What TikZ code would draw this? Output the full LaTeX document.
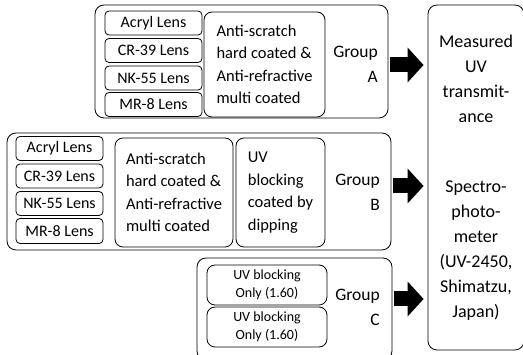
\documentclass[tikz,border=0pt]{standalone}
\usepackage{fontspec}
\setmainfont{Carlito}
\usetikzlibrary{arrows.meta}

\begin{document}
\begin{tikzpicture}[x=1pt,y=-1pt]
\def\lens#1{#1 Lens}
\tikzstyle{grp}=[draw,rounded corners=9pt,inner sep=0pt,line width=0.8pt];
\tikzstyle{lns}=[draw,rounded corners=4pt,inner sep=0pt,line width=0.8pt,font=\fontsize{16}{19}\selectfont];
\tikzstyle{coat}=[draw,rounded corners=8pt,inner sep=0pt,line width=0.8pt,align=left,font=\fontsize{16.5}{22.5}\selectfont];
\tikzstyle{only}=[draw,rounded corners=8pt,inner sep=0pt,line width=0.8pt,align=center,font=\fontsize{14}{18}\selectfont];
\tikzstyle{lbl}=[anchor=east,inner sep=0pt,align=right,font=\fontsize{17.5}{25}\selectfont];
\tikzstyle{big}=[-{Triangle[length=16pt,width=34pt]},line width=15pt,shorten <=2pt,shorten >=4pt];

\useasboundingbox (0,0) rectangle (523,355);

%% measuring box
\node [grp,align=center,minimum width=96,minimum height=345,font=\fontsize{18}{25}\selectfont] (meas) at (476,177.5)
  {Measured\\UV\\transmit-\\ance\\[45pt]Spectro-\\photo-\\meter\\(UV-2450,\\Shimatzu,\\Japan)};

%% group A
\node [grp,minimum width=293,minimum height=113] (ga) at (241.5,61.5) {};
\node [lns,minimum width=97,minimum height=24] (a1) at (153.5,23) {\lens{Acryl}};
\node [lns,minimum width=97,minimum height=24] (a2) at (153.5,50.5) {\lens{CR-39}};
\node [lns,minimum width=97,minimum height=24] (a3) at (153.5,78) {\lens{NK-55}};
\node [lns,minimum width=97,minimum height=24] (a4) at (153.5,104.5) {\lens{MR-8}};
\node [coat,minimum width=121,minimum height=105] (ac) at (264.5,64.5) {Anti-scratch\\hard coated \&\\Anti-refractive\\multi coated};
\node [lbl] (al) at (378,64.5) {Group\\A};
\draw [big] ([yshift=-3.5pt]ga.east) -- ([yshift=-3.5pt]ga.east -| meas.west);

%% group B
\node [grp,minimum width=384,minimum height=117] (gb) at (199,191.5) {};
\node [lns,minimum width=87,minimum height=24] (b1) at (59.5,148.5) {\lens{Acryl}};
\node [lns,minimum width=87,minimum height=24] (b2) at (59.5,176) {\lens{CR-39}};
\node [lns,minimum width=87,minimum height=24] (b3) at (59.5,203.5) {\lens{NK-55}};
\node [lns,minimum width=87,minimum height=25] (b4) at (59.5,231) {\lens{MR-8}};
\node [coat,minimum width=118,minimum height=109] (bc) at (174,192.5) {Anti-scratch\\hard coated \&\\Anti-refractive\\multi coated};
\node [coat,minimum width=89,minimum height=109] (bu) at (280.5,192.5) {UV\\blocking\\coated by\\dipping};
\node [lbl] (bl) at (380,192.5) {Group\\B};
\draw [big] ([yshift=5.5pt]gb.east) -- ([yshift=5.5pt]gb.east -| meas.west);

%% group C
\node [grp,minimum width=195,minimum height=102] (gc) at (294.5,309) {};
\node [only,minimum width=120,minimum height=40] (c1) at (267,285) {UV blocking\\Only (1.60)};
\node [only,minimum width=120,minimum height=40] (c2) at (267,327) {UV blocking\\Only (1.60)};
\node [lbl] (cl) at (380,307.5) {Group\\C};
\draw [big] ([yshift=10pt]gc.east) -- ([yshift=10pt]gc.east -| meas.west);
\end{tikzpicture}
\end{document}
